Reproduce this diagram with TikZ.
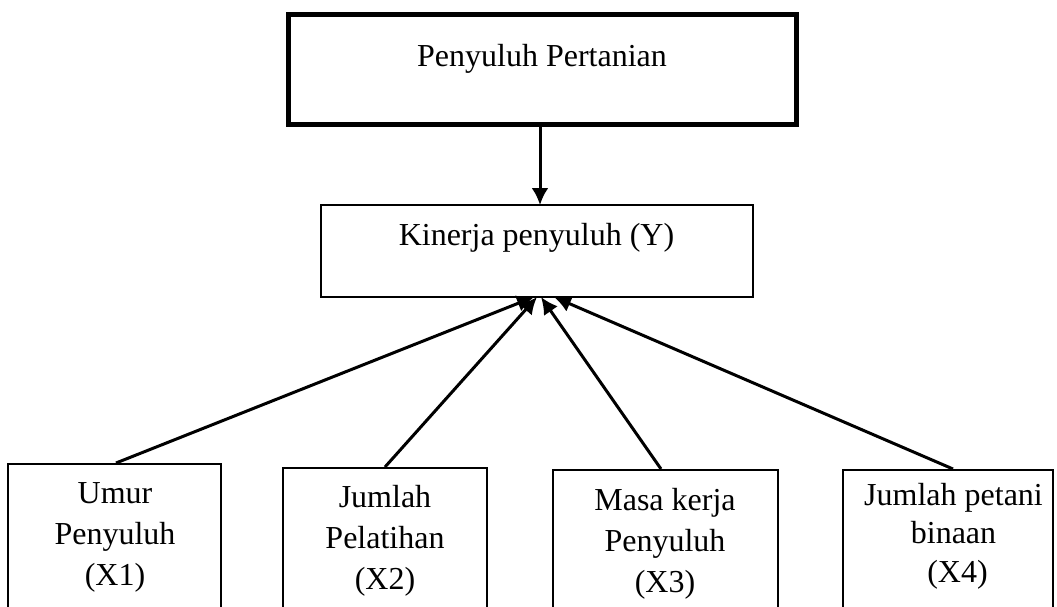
\documentclass[tikz,border=0pt]{standalone}
\usepackage{fontspec}
\setmainfont{Liberation Serif}
\usetikzlibrary{arrows.meta}
\newcommand{\stack}[1]{\begin{tabular}[t]{@{}c@{}}#1\end{tabular}}
\begin{document}
\begin{tikzpicture}[x=1pt,y=-1pt,
  lbl/.style={font=\fontsize{32}{41}\selectfont, inner sep=0pt, anchor=base},
  thickbox/.style={draw, line width=5pt, inner sep=0pt},
  thinbox/.style={draw, line width=1.8pt, inner sep=0pt},
  varbox/.style={thinbox, anchor=north, minimum height=170pt},
  arr/.style={line width=3pt, -{Latex[length=17pt,width=17pt]}}]
\useasboundingbox (0,0) rectangle (1057,607);
\clip (0,0) rectangle (1057,607);
% top box
\node[thickbox, minimum width=508pt, minimum height=109.5pt] (pp) at (542,69.75) {};
\node[lbl] (ppt) at (542,67) {Penyuluh Pertanian};
% middle box
\node[thinbox, minimum width=432pt, minimum height=92pt] (ky) at (537,251) {};
\node[lbl] (kyt) at (536.5,245) {Kinerja penyuluh (Y)};
% bottom boxes
\node[varbox, minimum width=213pt] (x1) at (114.5,463) {};
\node[varbox, minimum width=204pt] (x2) at (385,467) {};
\node[varbox, minimum width=225pt] (x3) at (665.5,469) {};
\node[varbox, minimum width=210pt] (x4) at (948,469) {};
\node[lbl] (x1t) at (115,503) {\stack{Umur\\Penyuluh\\(X1)}};
\node[lbl] (x2t) at (385,507) {\stack{Jumlah\\Pelatihan\\(X2)}};
\node[lbl] (x3t) at (665,510) {\stack{Masa kerja\\Penyuluh\\(X3)}};
\node[lbl, font=\fontsize{32}{38.5}\selectfont] (x4t) at (953.5,505) {\stack{Jumlah petani\\binaan\\\hspace*{8pt}(X4)}};
% connector end points
\coordinate (s1) at (116,463);
\coordinate (s2) at (385,467);
\coordinate (s3) at (661,469);
\coordinate (s4) at (953,469);
\coordinate (t1) at (534,297);
\coordinate (t2) at (537,297);
\coordinate (t3) at (541,297);
\coordinate (t4) at (554,297);
\coordinate (s0) at (540,124.5);
\coordinate (t0) at (540,205);
% arrows
\draw[arr] (s0) -- (t0);
\draw[arr] (s1) -- (t1);
\draw[arr] (s2) -- (t2);
\draw[arr] (s3) -- (t3);
\draw[arr] (s4) -- (t4);
\end{tikzpicture}
\end{document}
